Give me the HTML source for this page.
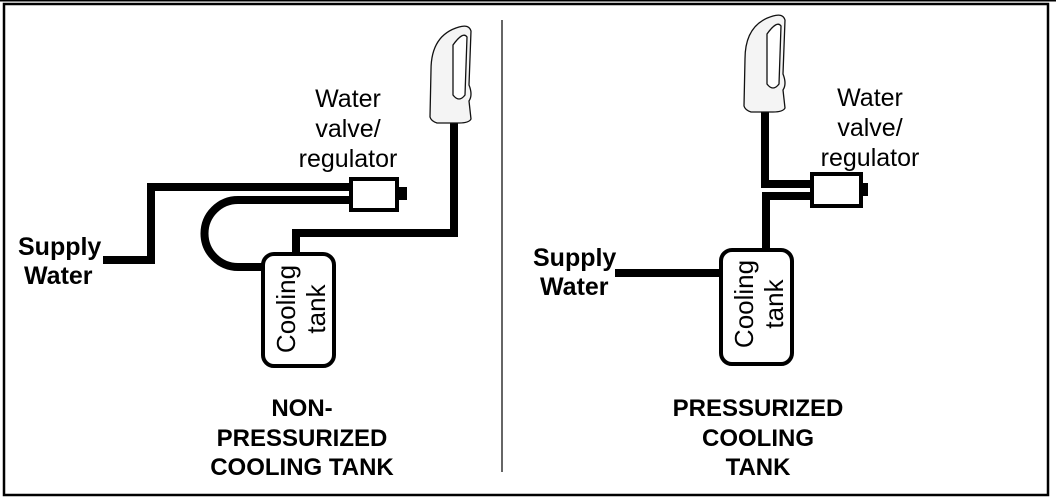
<!DOCTYPE html>
<html><head><meta charset="utf-8"><style>
html,body{margin:0;padding:0;background:#fff;width:1056px;height:499px;overflow:hidden}
svg{display:block}
text{font-family:"Liberation Sans",Arial,sans-serif;fill:#000}
</style></head><body>
<svg width="1056" height="499" viewBox="0 0 1056 499" xmlns="http://www.w3.org/2000/svg">
<rect x="0" y="0" width="1056" height="1.5" fill="#000"/>
<rect x="4" y="4" width="1044" height="491" fill="none" stroke="#000" stroke-width="2.5"/>
<line x1="502" y1="20" x2="502" y2="472" stroke="#333" stroke-width="1.5"/>

<!-- LEFT -->
<g fill="none" stroke="#000" stroke-width="8">
  <polyline points="103,260 151,260 151,187 352,187"/>
  <path d="M352,200 L238,200 A33.5,33.5 0 0 0 238,267 L263,267"/>
  <polyline points="296,252 296,233 454,233 454,118"/>
</g>
<rect x="351" y="179" width="46" height="31" fill="#fff" stroke="#000" stroke-width="4"/>
<rect x="398" y="187" width="9" height="13" fill="#000"/>
<rect x="263" y="254" width="71" height="112" rx="11" fill="#fff" stroke="#000" stroke-width="4"/>
<text transform="translate(295,309) rotate(-90)" font-size="26" text-anchor="middle">Cooling</text>
<text transform="translate(325,309) rotate(-90)" font-size="26" text-anchor="middle">tank</text>
<g transform="translate(429,25)">
  <path d="M2,45 Q2,10 30,2 Q40,-1 42,6 L40,60 Q44,70 40,76 L42,94 Q40,98 30,98 L8,98 Q2,96 1,92 Z" fill="#f4f4f4" stroke="#111" stroke-width="1.3"/>
  <path d="M24,20 Q34,6 38,12 L36,70 Q30,78 24,70 Z" fill="#fff" stroke="#111" stroke-width="1.3"/>
</g>
<text x="348" y="107" font-size="25" text-anchor="middle">Water</text>
<text x="348" y="137" font-size="25" text-anchor="middle">valve/</text>
<text x="348" y="167" font-size="25" text-anchor="middle">regulator</text>
<text x="18" y="255" font-size="25" font-weight="bold">Supply</text>
<text x="24" y="284" font-size="25" font-weight="bold">Water</text>
<text x="302" y="416" font-size="24" font-weight="bold" text-anchor="middle">NON-</text>
<text x="302" y="446" font-size="24" font-weight="bold" text-anchor="middle">PRESSURIZED</text>
<text x="302" y="475" font-size="24" font-weight="bold" text-anchor="middle">COOLING TANK</text>

<!-- RIGHT -->
<g fill="none" stroke="#000" stroke-width="8">
  <polyline points="765,108 765,184 813,184"/>
  <polyline points="766,250 766,196 813,196"/>
  <line x1="615" y1="273" x2="721" y2="273"/>
</g>
<rect x="812" y="174" width="49" height="32" fill="#fff" stroke="#000" stroke-width="4"/>
<rect x="861" y="183" width="7" height="13" fill="#000"/>
<rect x="721" y="250" width="71" height="114" rx="11" fill="#fff" stroke="#000" stroke-width="4"/>
<text transform="translate(753,304) rotate(-90)" font-size="26" text-anchor="middle">Cooling</text>
<text transform="translate(783,304) rotate(-90)" font-size="26" text-anchor="middle">tank</text>
<g transform="translate(743,14)">
  <path d="M2,45 Q2,10 30,2 Q40,-1 42,6 L40,60 Q44,70 40,76 L42,94 Q40,98 30,98 L8,98 Q2,96 1,92 Z" fill="#f4f4f4" stroke="#111" stroke-width="1.3"/>
  <path d="M24,20 Q34,6 38,12 L36,70 Q30,78 24,70 Z" fill="#fff" stroke="#111" stroke-width="1.3"/>
</g>
<text x="870" y="106" font-size="25" text-anchor="middle">Water</text>
<text x="870" y="136" font-size="25" text-anchor="middle">valve/</text>
<text x="870" y="166" font-size="25" text-anchor="middle">regulator</text>
<text x="533" y="266" font-size="25" font-weight="bold">Supply</text>
<text x="540" y="295" font-size="25" font-weight="bold">Water</text>
<text x="758" y="416" font-size="24" font-weight="bold" text-anchor="middle">PRESSURIZED</text>
<text x="758" y="446" font-size="24" font-weight="bold" text-anchor="middle">COOLING</text>
<text x="758" y="475" font-size="24" font-weight="bold" text-anchor="middle">TANK</text>
</svg>
</body></html>
